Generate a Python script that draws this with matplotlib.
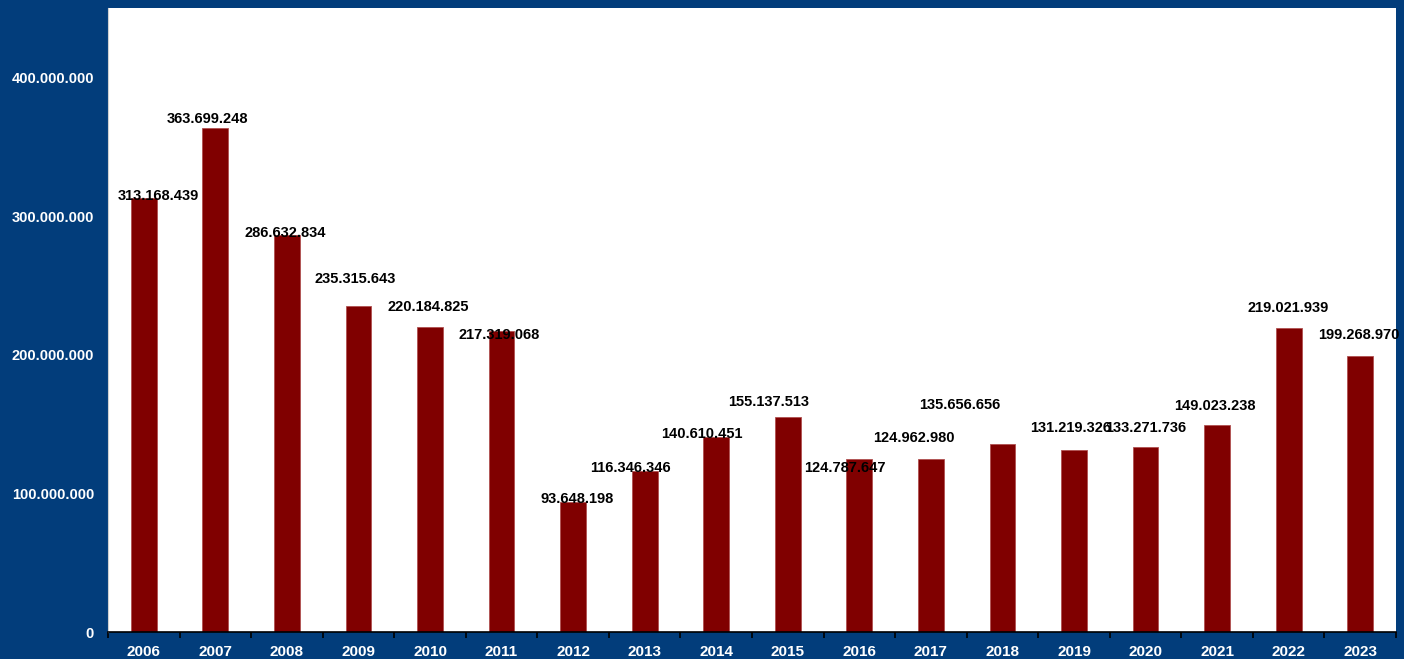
import numpy as np
import matplotlib.pyplot as plt
from matplotlib.ticker import FuncFormatter, MultipleLocator

years = ['2006', '2007', '2008', '2009', '2010', '2011', '2012', '2013', '2014',
         '2015', '2016', '2017', '2018', '2019', '2020', '2021', '2022', '2023']
values = [313168439, 363699248, 286632834, 235315643, 220184825, 217319068,
          93648198, 116346346, 140610451, 155137513, 124787647, 124962980,
          135656656, 131219326, 133271736, 149023238, 219021939, 199268970]

# vị trí nhãn (pixel) so với đỉnh cột, giống bản gốc
label_dx = [15, -8, -2, -3, -2, -2, 4, -14, -14, -19, -14, -17, -43, -3, 0, -2, -1, -1]
label_dy = [2, 9, 2, 27, 20, -4, 3, 3, 3, 15, -9, 21, 39, 22, 19, 19, 20, 21]

bg = '#023d7b'
plt.rcParams['font.family'] = ['Liberation Sans', 'DejaVu Sans']

fig = plt.figure(figsize=(14.04, 6.59), dpi=100, facecolor=bg)
ax = fig.add_axes([108 / 1404, 27 / 659, 1288 / 1404, 624 / 659])
ax.set_facecolor('white')

x = np.arange(len(years))
ax.bar(x, values, width=0.36, color='#800000', edgecolor='#b05050', linewidth=0.6, zorder=2)

for i, v in enumerate(values):
    ax.annotate(f'{v:,}'.replace(',', '.'), (x[i], v),
                xytext=(label_dx[i], label_dy[i]), textcoords='offset pixels',
                ha='center', va='center', fontsize=10.5, fontweight='bold',
                color='black', zorder=3)

ax.set_xlim(-0.5, len(years) - 0.5)
ax.set_ylim(0, 450000000)
ax.yaxis.set_major_locator(MultipleLocator(100000000))
ax.yaxis.set_major_formatter(FuncFormatter(lambda v, p: f'{int(v):,}'.replace(',', '.')))

ax.set_xticks(x)
ax.set_xticklabels(years)
ax.set_xticks(np.arange(-0.5, len(years), 1), minor=True)
ax.tick_params(axis='x', which='major', length=0, pad=9, labelsize=11, labelcolor='white')
ax.tick_params(axis='x', which='minor', length=4, width=1.2, color='black', direction='out')
ax.tick_params(axis='y', length=0, pad=10, labelsize=10.5, labelcolor='white')
for lab in ax.get_xticklabels() + ax.get_yticklabels():
    lab.set_fontweight('bold')

for s in ['top', 'right']:
    ax.spines[s].set_visible(False)
ax.spines['left'].set_color('#d0d0d0')
ax.spines['bottom'].set_color('black')
ax.spines['bottom'].set_linewidth(1.2)

fig.savefig('out.png', dpi=100, facecolor=bg)
